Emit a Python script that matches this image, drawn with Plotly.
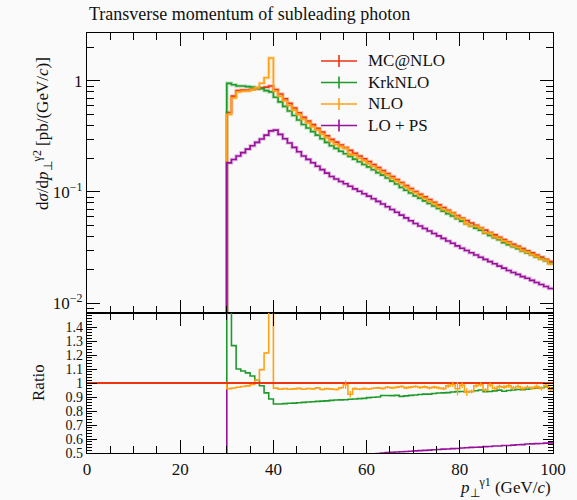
import plotly.graph_objects as go

# ---------------- data (bin width 1 GeV, bins 0..100) ----------------
pt_edges = list(range(0, 101))
empty_below = [0.0] * 30  # bins 0-30 are empty for all samples

mcatnlo = empty_below + [
    0.52, 0.73, 0.82, 0.83, 0.83, 0.84, 0.85, 0.87, 0.88, 0.90,
    0.839, 0.762, 0.692, 0.628, 0.570, 0.518, 0.470, 0.436, 0.404, 0.374,
    0.347, 0.321, 0.298, 0.281, 0.265, 0.251, 0.237, 0.223, 0.211, 0.199,
    0.188, 0.1766, 0.166, 0.156, 0.1466, 0.1377, 0.1294, 0.1216, 0.1143, 0.1074,
    0.1009, 0.0955, 0.0904, 0.0855, 0.0809, 0.0766, 0.0724, 0.0685, 0.0649, 0.0614,
    0.0581, 0.0553, 0.0526, 0.0501, 0.0476, 0.0453, 0.0432, 0.0411, 0.0391, 0.0372,
    0.0354, 0.0338, 0.0324, 0.0309, 0.0296, 0.0283, 0.0270, 0.0259, 0.0247, 0.0236]

krknlo = empty_below + [
    0.952, 0.925, 0.902, 0.901, 0.890, 0.882, 0.867, 0.853, 0.818, 0.797,
    0.713, 0.648, 0.590, 0.537, 0.488, 0.445, 0.405, 0.377, 0.350, 0.325,
    0.302, 0.280, 0.261, 0.247, 0.233, 0.221, 0.2095, 0.1976, 0.1874, 0.1771,
    0.1683, 0.1586, 0.1494, 0.1420, 0.1335, 0.1253, 0.1180, 0.1100, 0.1038, 0.0979,
    0.0923, 0.0877, 0.0832, 0.0787, 0.0748, 0.0711, 0.0673, 0.0638, 0.0607, 0.0576,
    0.0546, 0.0517, 0.0494, 0.0473, 0.0452, 0.0425, 0.0406, 0.0388, 0.0371, 0.0350,
    0.0335, 0.0321, 0.0309, 0.0294, 0.0283, 0.0272, 0.0260, 0.0250, 0.0240, 0.0228]

nlo = empty_below + [
    0.499, 0.704, 0.795, 0.809, 0.813, 0.832, 0.867, 0.953, 1.069, 1.611,
    0.808, 0.728, 0.664, 0.600, 0.546, 0.498, 0.449, 0.419, 0.387, 0.361,
    0.331, 0.308, 0.285, 0.268, 0.256, 0.248, 0.218, 0.214, 0.2015, 0.191,
    0.180, 0.1699, 0.1602, 0.1498, 0.1422, 0.1329, 0.1255, 0.1186, 0.1103, 0.1042,
    0.0984, 0.0924, 0.0879, 0.0825, 0.0785, 0.0739, 0.0695, 0.0671, 0.0643, 0.0589,
    0.0572, 0.0517, 0.0494, 0.0491, 0.0471, 0.0430, 0.0426, 0.0395, 0.0381, 0.0361,
    0.0347, 0.0326, 0.0316, 0.0297, 0.0287, 0.0273, 0.0263, 0.0249, 0.0243, 0.0225]

nlo_relerr = empty_below + [
    0.004, 0.004, 0.004, 0.004, 0.004, 0.004, 0.004, 0.005, 0.005, 0.006,
    0.005, 0.005, 0.005, 0.005, 0.005, 0.006, 0.006, 0.006, 0.006, 0.006,
    0.006, 0.007, 0.007, 0.007, 0.008, 0.030, 0.025, 0.008, 0.008, 0.008,
    0.008, 0.008, 0.009, 0.009, 0.009, 0.009, 0.010, 0.010, 0.010, 0.010,
    0.010, 0.011, 0.011, 0.011, 0.011, 0.012, 0.012, 0.015, 0.020, 0.050,
    0.020, 0.030, 0.015, 0.015, 0.015, 0.015, 0.015, 0.015, 0.015, 0.015,
    0.015, 0.015, 0.015, 0.015, 0.015, 0.015, 0.015, 0.015, 0.020, 0.020]

lops = empty_below + [
    0.183, 0.196, 0.211, 0.226, 0.243, 0.261, 0.280, 0.300, 0.325, 0.355,
    0.361, 0.330, 0.302, 0.276, 0.252, 0.2305, 0.2106, 0.1966, 0.1834, 0.1705,
    0.1589, 0.1480, 0.1380, 0.1309, 0.1243, 0.1185, 0.1126, 0.1066, 0.1015, 0.0963,
    0.0917, 0.0869, 0.0823, 0.0780, 0.0737, 0.0695, 0.0656, 0.0619, 0.0584, 0.0551,
    0.0520, 0.0494, 0.0469, 0.0445, 0.0423, 0.0402, 0.0382, 0.0362, 0.0345, 0.0327,
    0.0311, 0.0297, 0.0284, 0.0271, 0.0258, 0.0247, 0.0236, 0.0226, 0.0215, 0.0206,
    0.0196, 0.0188, 0.0181, 0.0173, 0.0167, 0.0160, 0.0153, 0.0147, 0.0141, 0.0135]

series_names = ["MC@NLO", "KrkNLO", "NLO", "LO + PS"]
series_colors = ["#EE3311", "#1E9A2A", "#FFA214", "#99109A"]

title_text = "Transverse momentum of subleading photon"
ylabel_main = "d<i>σ</i>/d<i>p</i><sub>⊥</sub><sup>γ2</sup> [pb/(GeV/<i>c</i>)]"
ylabel_ratio = "Ratio"
xlabel = "<i>p</i><sub>⊥</sub><sup>γ1</sup> (GeV/<i>c</i>)"

# ---------------- layout constants (pixels) ----------------
FONT = "Liberation Serif"
BG = "#fafafa"
TXT = "#111"
W, H = 577, 500
ML, MR, MT, MB = 87, 24, 33, 47
PW, PH = W - ML - MR, H - MT - MB


def px_x(px):
    return (px - ML) / PW


def px_y(py):
    return (H - MB - py) / PH


def step_xy(vals, floor=None):
    ys = list(vals) + [vals[-1]]
    if floor is not None:
        ys = [v if v > 0 else floor for v in ys]
    return pt_edges, ys


def ratio_of(vals, ref):
    return [v / r if r > 0 else 1.0 for v, r in zip(vals, ref)]


fig = go.Figure()

all_series = [mcatnlo, krknlo, nlo, lops]

for vals, col in zip(all_series, series_colors):
    x, y = step_xy(vals, floor=1e-9)
    fig.add_trace(go.Scatter(x=x, y=y, mode="lines", line=dict(color=col, width=3.5, shape="hv"),
                             opacity=0.25, showlegend=False, hoverinfo="skip",
                             xaxis="x", yaxis="y"))
    fig.add_trace(go.Scatter(x=x, y=y, mode="lines", line=dict(color=col, width=1.6, shape="hv"),
                             name=series_names[series_colors.index(col)],
                             showlegend=False, xaxis="x", yaxis="y"))

# ratio panel: MC@NLO reference line drawn last (on top)
ratio_order = [3, 1, 2, 0]
for i in ratio_order:
    vals = all_series[i]
    r = ratio_of(vals, mcatnlo)
    x, y = step_xy(r)
    fig.add_trace(go.Scatter(x=x, y=y, mode="lines",
                             line=dict(color=series_colors[i], width=2.2 if i == 0 else 1.6, shape="hv"),
                             showlegend=False, xaxis="x2", yaxis="y2"))

# NLO error bars
centers = [e + 0.5 for e in pt_edges[:-1]]
nlo_ratio = ratio_of(nlo, mcatnlo)
cx = [c for c, v in zip(centers, nlo) if v > 0]
cr = [r for r, v in zip(nlo_ratio, nlo) if v > 0]
ce = [r * e for r, e, v in zip(nlo_ratio, nlo_relerr, nlo) if v > 0]
cv = [v for v in nlo if v > 0]
cve = [v * e for v, e in zip(nlo, nlo_relerr) if v > 0]
fig.add_trace(go.Scatter(x=cx, y=cr, mode="markers", marker=dict(size=1, color="rgba(0,0,0,0)"),
                         error_y=dict(type="data", array=ce, color=series_colors[2], thickness=1.3, width=0),
                         showlegend=False, xaxis="x2", yaxis="y2"))
fig.add_trace(go.Scatter(x=cx, y=cv, mode="markers", marker=dict(size=1, color="rgba(0,0,0,0)"),
                         error_y=dict(type="data", array=cve, color=series_colors[2], thickness=1.3, width=0),
                         showlegend=False, xaxis="x", yaxis="y"))

# ---------------- axes ----------------
split = 140 / PH

tick_common = dict(showline=True, linecolor="black", linewidth=1.3, mirror="allticks",
                   ticks="inside", tickcolor="black", tickwidth=1, showgrid=False, zeroline=False)

main_minor = [m * 10 ** d for d in (-3, -2, -1, 0) for m in range(2, 10)]

fig.update_layout(
    width=W, height=H,
    margin=dict(l=ML, r=MR, t=MT, b=MB),
    paper_bgcolor=BG, plot_bgcolor=BG,
    font=dict(family=FONT, size=17, color=TXT),
    showlegend=False,
    xaxis=dict(domain=[0, 1], range=[0, 100], anchor="y", matches="x2", showticklabels=False,
               dtick=20, tick0=0, ticklen=13,
               minor=dict(dtick=5, tick0=0, ticks="inside", ticklen=7, tickcolor="black"),
               **tick_common),
    yaxis=dict(domain=[split, 1], type="log", range=[-2.09, 0.432], anchor="x",
               tickmode="array", tickvals=[0.01, 0.1, 1],
               ticktext=["10<sup>−2</sup>", "10<sup>−1</sup>", "1"], ticklen=13,
               tickfont=dict(family=FONT, size=17, color=TXT),
               minor=dict(tickmode="array", tickvals=main_minor, ticks="inside", ticklen=7,
                          tickcolor="black"),
               **tick_common),
    xaxis2=dict(domain=[0, 1], range=[0, 100], anchor="y2", dtick=20, tick0=0, ticklen=13,
                tickfont=dict(family=FONT, size=17, color=TXT),
                minor=dict(dtick=5, tick0=0, ticks="inside", ticklen=7, tickcolor="black"),
                **tick_common),
    yaxis2=dict(domain=[0, split], range=[0.5, 1.5], anchor="x2", tickmode="array",
                tickvals=[0.5, 0.6, 0.7, 0.8, 0.9, 1.0, 1.1, 1.2, 1.3, 1.4],
                ticktext=["0.5", "0.6", "0.7", "0.8", "0.9", "1", "1.1", "1.2", "1.3", "1.4"],
                ticklen=10, tickfont=dict(family=FONT, size=14, color=TXT),
                minor=dict(dtick=0.02, tick0=0.5, ticks="inside", ticklen=5, tickcolor="black"),
                **tick_common),
)

# ---------------- legend (drawn by hand for exact spacing) ----------------
leg_rows_px = [61, 82.5, 104, 125.5]
for name, col, ly in zip(series_names, series_colors, leg_rows_px):
    fig.add_shape(type="line", xref="paper", yref="paper", x0=px_x(321), x1=px_x(357),
                  y0=px_y(ly), y1=px_y(ly), line=dict(color=col, width=1.6))
    fig.add_shape(type="line", xref="paper", yref="paper", x0=px_x(339), x1=px_x(339),
                  y0=px_y(ly - 6), y1=px_y(ly + 6), line=dict(color=col, width=1.6))
    fig.add_annotation(text=name, xref="paper", yref="paper", x=px_x(366), y=px_y(ly),
                       xanchor="left", yanchor="middle", showarrow=False,
                       font=dict(family=FONT, size=17, color=TXT))

# ---------------- texts ----------------
fig.add_annotation(text=title_text, xref="paper", yref="paper", x=0, y=px_y(14),
                   xanchor="left", yanchor="middle", showarrow=False,
                   font=dict(family=FONT, size=18, color=TXT))
fig.add_annotation(text=ylabel_main, xref="paper", yref="paper", x=px_x(42),
                   y=px_y(134), xanchor="center", yanchor="middle", textangle=-90,
                   showarrow=False, font=dict(family=FONT, size=17, color=TXT))
fig.add_annotation(text=ylabel_ratio, xref="paper", yref="paper", x=px_x(38),
                   y=px_y(383), xanchor="center", yanchor="middle", textangle=-90,
                   showarrow=False, font=dict(family=FONT, size=17, color=TXT))
fig.add_annotation(text=xlabel, xref="paper", yref="paper", x=1, y=px_y(487),
                   xanchor="right", yanchor="middle", showarrow=False,
                   font=dict(family=FONT, size=17, color=TXT))

fig.write_html("out.html")
